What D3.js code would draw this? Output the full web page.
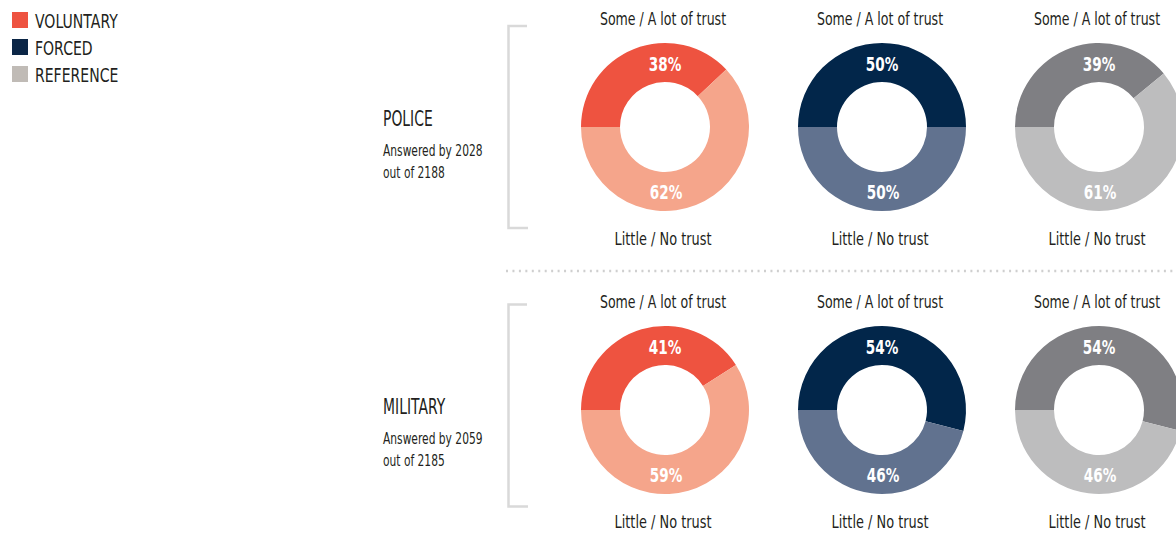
<!DOCTYPE html>
<html>
<head>
<meta charset="utf-8">
<script src="https://cdn.jsdelivr.net/npm/d3@7/dist/d3.min.js"></script>
<style>
  html, body { margin: 0; padding: 0; background: #fff; }
  svg { display: block; }
  text { font-family: "DejaVu Sans", sans-serif; fill: #231f20; }
</style>
</head>
<body>
<svg id="chart" width="1176" height="534"></svg>
<script>
// Survey groups and institutions
const groups = ["VOLUNTARY", "FORCED", "REFERENCE"];
const institutions = ["POLICE", "MILITARY"];
const answered = [2028, 2059];
const totals = [2188, 2185];

// Share (%) with some / a lot of trust, per group
const trustPolice = [38, 50, 39];
const trustMilitary = [41, 54, 54];
// Share (%) with little / no trust, per group
const noTrustPolice = [62, 50, 61];
const noTrustMilitary = [59, 46, 46];

const topLabel = "Some / A lot of trust";
const bottomLabel = "Little / No trust";

const legendColors = ["#ee5340", "#0b2646", "#c0bbb6"];
const darkColors = ["#ee5340", "#02264a", "#7f7f83"];
const lightColors = ["#f5a58b", "#61728f", "#bdbdbe"];

const svg = d3.select("#chart");

// Donut centres, row headings and brackets
const x = d3.scalePoint().domain(groups).range([665, 1099]);
const y = d3.scalePoint().domain(institutions).range([127, 410]);
const headY = d3.scalePoint().domain(institutions).range([126, 414]);
const bracketY = d3.scalePoint().domain(institutions).range([127, 405.5]);
const outerR = 84, innerR = 45;

// Narrow text: horizontally compressed glyphs for a condensed look
function label(parent, tx, ty, str, size, opts = {}) {
  const sx = opts.sx || 0.74;
  const t = parent.append("text")
    .attr("transform", `translate(${tx},${ty}) scale(${sx},1)`)
    .attr("font-size", size)
    .attr("text-anchor", opts.anchor || "start")
    .text(str);
  if (opts.bold) t.attr("font-weight", "bold");
  if (opts.fill) t.style("fill", opts.fill);
  return t;
}

// Legend
const legend = svg.append("g");
groups.forEach((g, i) => {
  legend.append("rect")
    .attr("x", 12).attr("y", 12 + i * 27)
    .attr("width", 16).attr("height", 16)
    .attr("fill", legendColors[i]);
  label(legend, 35, 28 + i * 27, g, 19.5, { sx: 0.72 });
});

const pie = d3.pie().sort(null).value(d => d)
  .startAngle(-Math.PI / 2).endAngle(Math.PI * 1.5);
const arc = d3.arc().innerRadius(innerR).outerRadius(outerR);

const trustRows = [trustPolice, trustMilitary];
const noTrustRows = [noTrustPolice, noTrustMilitary];

institutions.forEach((inst, r) => {
  const cy = y(inst);
  const hy = headY(inst);

  // Institution heading
  label(svg, 383, hy, inst, 20.5, { sx: 0.68 });
  label(svg, 383, hy + 30, `Answered by ${answered[r]}`, 15.5, { sx: 0.69 });
  label(svg, 383, hy + 51.5, `out of ${totals[r]}`, 15.5, { sx: 0.69 });

  // Bracket
  const by = bracketY(inst);
  const top = by - 101, bot = by + 101;
  svg.append("path")
    .attr("d", `M527,${top}H508.5V${bot}H528`)
    .attr("fill", "none").attr("stroke", "#d9d9d9").attr("stroke-width", 2.5);

  groups.forEach((g, i) => {
    const cx = x(g);
    const vals = [trustRows[r][i], noTrustRows[r][i]];
    const gg = svg.append("g").attr("transform", `translate(${cx},${cy})`);
    gg.selectAll("path").data(pie(vals)).join("path")
      .attr("d", arc)
      .attr("fill", (d, k) => k === 0 ? darkColors[i] : lightColors[i]);

    label(gg, 0, -56, vals[0] + "%", 20, { anchor: "middle", bold: true, fill: "#fff", sx: 0.68 });
    label(gg, 1, 71.5, vals[1] + "%", 20, { anchor: "middle", bold: true, fill: "#fff", sx: 0.68 });

    label(gg, -2, -102, topLabel, 17, { anchor: "middle", sx: 0.74 });
    label(gg, -2, 118, bottomLabel, 17, { anchor: "middle", sx: 0.76 });
  });
});

// Dotted divider between the two rows
svg.append("line")
  .attr("x1", 506).attr("x2", 1176)
  .attr("y1", 271).attr("y2", 271)
  .attr("stroke", "#cfcfcf").attr("stroke-width", 2.5)
  .attr("stroke-dasharray", "2,4.45");
</script>
</body>
</html>
